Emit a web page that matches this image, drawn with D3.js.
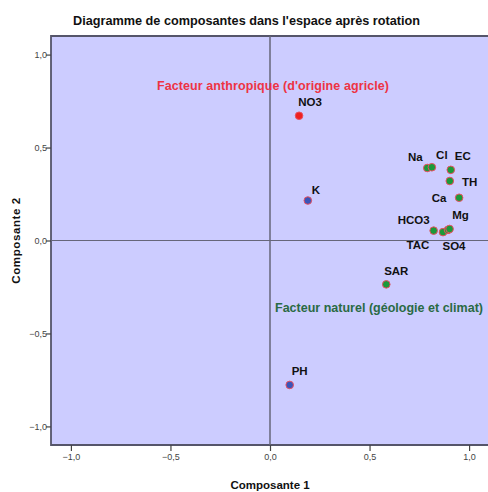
<!DOCTYPE html>
<html>
<head>
<meta charset="utf-8">
<script src="https://cdn.jsdelivr.net/npm/d3@7"></script>
<style>
  body { margin: 0; background: #fff; }
  svg { display: block; font-family: "Liberation Sans", Arial, sans-serif; }
</style>
</head>
<body>
<svg id="chart" width="488" height="492"></svg>
<script>
// component loadings after rotation
const variables = ["NO3", "K", "Na", "Cl", "EC", "TH", "Ca", "HCO3", "TAC", "SO4", "Mg", "SAR", "PH"];
const comp1 = [0.146, 0.19, 0.79, 0.813, 0.908, 0.903, 0.95, 0.822, 0.869, 0.894, 0.902, 0.584, 0.099];
const comp2 = [0.671, 0.215, 0.39, 0.394, 0.38, 0.32, 0.23, 0.053, 0.045, 0.057, 0.062, -0.236, -0.777];
const groups = ["anthro", "other", "nat", "nat", "nat", "nat", "nat", "nat", "nat", "nat", "nat", "nat", "other"];
const tickValues = [-1, -0.5, 0, 0.5, 1];

const data = variables.map((v, i) => ({ name: v, x: comp1[i], y: comp2[i], group: groups[i] }));

// where each label sits relative to its point (px)
const labelPos = {
  NO3: [11, -14], K: [8, -11], Na: [-12, -11], Cl: [10, -12], EC: [12, -14],
  TH: [20, 1], Ca: [-20, 0], HCO3: [-20, -11], TAC: [-25, 13], SO4: [6, 16],
  Mg: [11, -14], SAR: [10, -13], PH: [10, -14]
};

const fillColor = { anthro: "#ee2020", nat: "#1a9a3a", other: "#3a55b8" };

const svg = d3.select("#chart");
const x = d3.scaleLinear().domain([-1.1, 1.1]).range([51, 489]);
const y = d3.scaleLinear().domain([-1.1, 1.1]).range([445, 36]);
const fmt = d => d3.format(".1f")(d).replace(".", ",");

// plot background
svg.append("rect")
  .attr("x", x(-1.1)).attr("y", y(1.1))
  .attr("width", x(1.1) - x(-1.1)).attr("height", y(-1.1) - y(1.1))
  .attr("fill", "#ccccff");

// border lines (left, top, bottom)
svg.append("path")
  .attr("d", `M${x(1.1)},${y(1.1)}H${x(-1.1)}V${y(-1.1)}H${x(1.1)}`)
  .attr("fill", "none").attr("stroke", "#55556a").attr("stroke-width", 1.8);

// zero lines
svg.append("line")
  .attr("x1", x(0)).attr("x2", x(0)).attr("y1", y(1.1)).attr("y2", y(-1.1))
  .attr("stroke", "#66667a").attr("stroke-width", 1.5);
svg.append("line")
  .attr("x1", x(-1.1)).attr("x2", x(1.1)).attr("y1", y(0)).attr("y2", y(0))
  .attr("stroke", "#66667a").attr("stroke-width", 1.2);

// axes
const xAxis = svg.append("g")
  .attr("transform", `translate(0,${y(-1.1)})`)
  .call(d3.axisBottom(x).tickValues(tickValues).tickFormat(fmt).tickSize(6).tickSizeOuter(0));
const yAxis = svg.append("g")
  .attr("transform", `translate(${x(-1.1)},0)`)
  .call(d3.axisLeft(y).tickValues(tickValues).tickFormat(fmt).tickSize(5).tickSizeOuter(0));
[xAxis, yAxis].forEach(g => {
  g.select(".domain").remove();
  g.selectAll(".tick line").attr("stroke", "#444").attr("stroke-width", 1.2);
  g.selectAll(".tick text").attr("fill", "#444").attr("font-size", 9);
});
yAxis.selectAll(".tick text").attr("x", -4);

// points
svg.append("g").selectAll("circle")
  .data(data)
  .join("circle")
  .attr("cx", d => x(d.x))
  .attr("cy", d => y(d.y))
  .attr("r", 3.8)
  .attr("fill", d => fillColor[d.group])
  .attr("stroke", "#e85060")
  .attr("stroke-width", 1);

// point labels
svg.append("g").selectAll("text")
  .data(data)
  .join("text")
  .attr("x", d => x(d.x) + labelPos[d.name][0])
  .attr("y", d => y(d.y) + labelPos[d.name][1])
  .attr("text-anchor", "middle")
  .attr("dy", "0.35em")
  .attr("font-size", 11.5)
  .attr("font-weight", "bold")
  .attr("fill", "#111")
  .text(d => d.name);

// factor annotations
svg.append("text")
  .attr("x", 273).attr("y", 90)
  .attr("text-anchor", "middle")
  .attr("font-size", 12.5).attr("font-weight", "bold")
  .attr("fill", "#ee3344")
  .attr("textLength", 232)
  .text("Facteur anthropique (d'origine agricle)");
svg.append("text")
  .attr("x", 379).attr("y", 312)
  .attr("text-anchor", "middle")
  .attr("font-size", 12.5).attr("font-weight", "bold")
  .attr("fill", "#2a6a44")
  .attr("textLength", 208)
  .text("Facteur naturel (géologie et climat)");

// title
svg.append("text")
  .attr("x", 73).attr("y", 25)
  .attr("font-size", 13.5).attr("font-weight", "bold")
  .attr("fill", "#111")
  .attr("textLength", 347)
  .attr("lengthAdjust", "spacingAndGlyphs")
  .text("Diagramme de composantes dans l'espace après rotation");

// axis titles
svg.append("text")
  .attr("x", 270).attr("y", 489)
  .attr("text-anchor", "middle")
  .attr("font-size", 11.5).attr("font-weight", "bold")
  .attr("fill", "#111")
  .text("Composante 1");
svg.append("text")
  .attr("transform", `translate(20,${y(0)}) rotate(-90)`)
  .attr("text-anchor", "middle")
  .attr("font-size", 11.5).attr("font-weight", "bold")
  .attr("letter-spacing", 0.6)
  .attr("fill", "#111")
  .text("Composante 2");
</script>
</body>
</html>
